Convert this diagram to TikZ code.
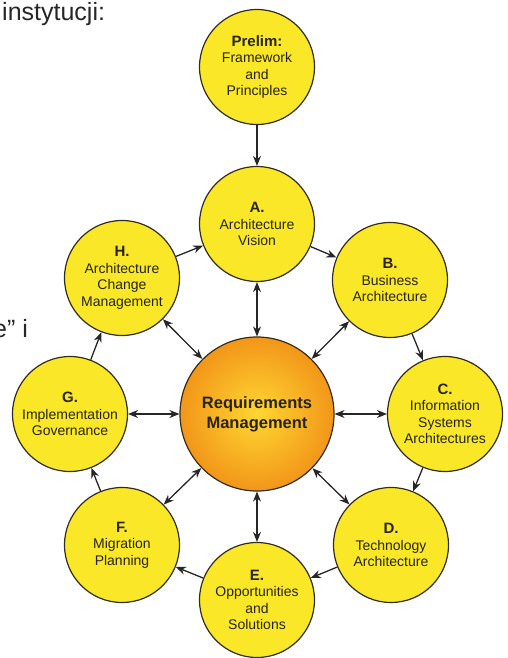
\documentclass[tikz,border=0pt]{standalone}
\usepackage{fontspec}
\setmainfont{Liberation Sans}
\usetikzlibrary{arrows.meta}
\definecolor{cyel}{RGB}{250,232,40}
\definecolor{cline}{RGB}{50,45,30}
\definecolor{ctext}{RGB}{40,35,20}
\definecolor{oin}{RGB}{255,215,50}
\definecolor{oout}{RGB}{242,150,25}
\begin{document}
\begin{tikzpicture}[x=1pt,y=-1pt,
  phase/.style={circle, draw=cline, line width=1.2pt, fill=cyel, minimum size=115pt, inner sep=0pt,
    align=center, font=\fontsize{14}{16.5}\selectfont, text=ctext},
  hub/.style={circle, draw=cline, line width=1.2pt, minimum size=154pt, inner sep=0pt,
    shading=radial, inner color=oin, outer color=oout, align=center,
    font=\bfseries\fontsize{16.5}{20}\selectfont, text=ctext},
  flow/.style={-{Stealth[length=10pt,width=8pt]}, line width=1.3pt, draw=black!85},
  link/.style={{Stealth[length=10pt,width=8pt]}-{Stealth[length=10pt,width=8pt]}, line width=1.3pt, draw=black!85},
  page/.style={font=\fontsize{25}{30}\selectfont, text=black!85, inner sep=0pt, anchor=base west}]
\useasboundingbox (0,0) rectangle (507,658);
\newcommand{\hdr}[1]{{\bfseries\fontsize{15}{18}\selectfont #1}}

\node[page] (t1) at (2,21) {instytucji:};
\node[page] (t2) at (-7,337) {e” i};

\node[phase] (P) at (257,67) {\hdr{Prelim:}\\Framework\\and\\Principles};
\node[phase] (A) at (257,224) {\hdr{A.}\\Architecture\\Vision};
\node[phase] (B) at (390,280) {\hdr{B.}\\Business\\Architecture};
\node[phase] (C) at (445,414) {\hdr{C.}\\Information\\Systems\\Architectures};
\node[phase] (D) at (391,545) {\hdr{D.}\\Technology\\Architecture};
\node[phase] (E) at (257,600) {\hdr{E.}\\Opportunities\\and\\Solutions};
\node[phase] (F) at (122,545) {\hdr{F.}\\Migration\\Planning};
\node[phase] (G) at (70,414) {\hdr{G.}\\Implementation\\Governance};
\node[phase] (H) at (122,278) {\hdr{H.}\\Architecture\\Change\\Management};
\node[hub] (R) at (257,414) {Requirements\\Management};

\draw[flow] (P) -- (A);
\draw[flow] (A) -- (B);
\draw[flow] (B) -- (C);
\draw[flow] (C) -- (D);
\draw[flow] (D) -- (E);
\draw[flow] (E) -- (F);
\draw[flow] (F) -- (G);
\draw[flow] (G) -- (H);
\draw[flow] (H) -- (A);

\foreach \n in {A,B,C,D,E,F,G,H}
  \draw[link] (R) -- (\n);
\end{tikzpicture}
\end{document}
